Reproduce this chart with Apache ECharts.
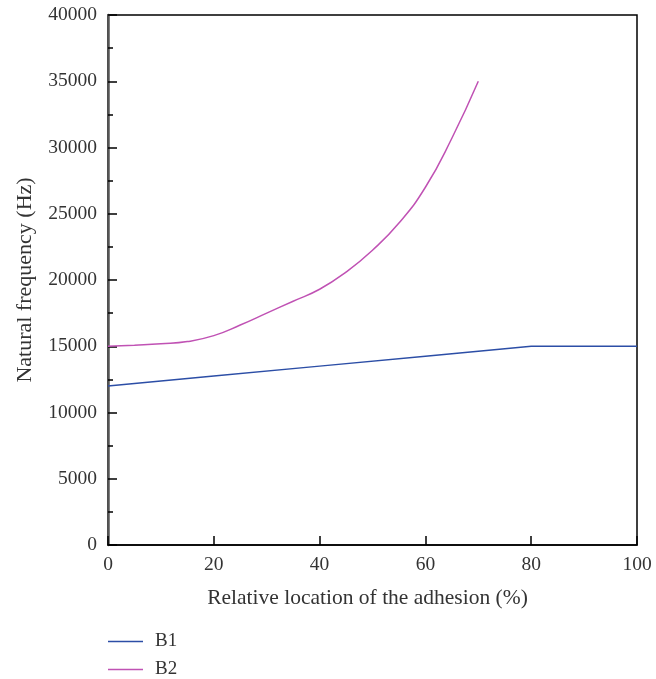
<!DOCTYPE html>
<html>
<head>
<meta charset="utf-8">
<script src="https://cdn.jsdelivr.net/npm/echarts@6/dist/echarts.min.js"></script>
<style>html,body{margin:0;padding:0;background:#fff}#c{width:656px;height:679px}</style>
</head>
<body>
<div id="c"></div>
<script>
const xB1 = [0, 20, 40, 60, 80, 100];
const yB1 = [12000, 12750, 13500, 14250, 15000, 15000];
const xB2 = [0, 5, 10, 15, 20, 25, 30, 35, 40, 45, 50, 55, 60, 65, 70];
const yB2 = [15000, 15080, 15180, 15350, 15800, 16600, 17500, 18400, 19300, 20600, 22250, 24300, 27000, 30700, 35000];
const seriesNames = ['B1', 'B2'];
const xTitle = 'Relative location of the adhesion (%)';
const yTitle = 'Natural frequency (Hz)';

const font = 'Liberation Serif';
const legendBase = {
  orient: 'vertical', left: 103, itemWidth: 35, itemHeight: 1.5, itemGap: 0, icon: 'rect',
  textStyle: {fontFamily: font, fontSize: 19, color: '#333', padding: [0, 0, 0, 7]}
};
const chart = echarts.init(document.getElementById('c'), null, {renderer: 'canvas'});
chart.setOption({
  animation: false,
  grid: {left: 108, right: 19, top: 15, bottom: 134, outerBoundsMode: 'none', containLabel: false,
         show: true, borderColor: '#000', borderWidth: 1.5, backgroundColor: 'transparent'},
  legend: [
    Object.assign({}, legendBase, {top: 627, data: [seriesNames[0]]}),
    Object.assign({}, legendBase, {top: 655, data: [seriesNames[1]]})
  ],
  xAxis: {
    type: 'value', min: 0, max: 100, interval: 20,
    name: xTitle, nameLocation: 'middle', nameGap: 42,
    nameTextStyle: {fontFamily: font, fontSize: 21.5, color: '#333', padding: [0, 10, 0, 0]},
    axisLine: {lineStyle: {color: '#000', width: 1.5}},
    axisTick: {inside: true, length: 9, lineStyle: {color: '#000', width: 1.5}},
    axisLabel: {fontFamily: font, fontSize: 19.5, color: '#333', margin: 10},
    splitLine: {show: false}
  },
  yAxis: {
    type: 'value', min: 0, max: 40000, interval: 5000,
    name: yTitle, nameLocation: 'middle', nameGap: 72,
    nameTextStyle: {fontFamily: font, fontSize: 22, color: '#333'},
    axisLine: {lineStyle: {color: '#555', width: 2.5}},
    axisTick: {inside: true, length: 9, lineStyle: {color: '#000', width: 1.5}},
    minorTick: {show: true, splitNumber: 2, length: 5, lineStyle: {color: '#000', width: 1.5}},
    axisLabel: {fontFamily: font, fontSize: 19.5, color: '#333', margin: 11, formatter: v => String(v)},
    splitLine: {show: false}
  },
  series: [
    {name: seriesNames[0], type: 'line', showSymbol: false, symbol: 'none', color: '#2c4ea6',
     lineStyle: {width: 1.5, color: '#2c4ea6'},
     data: xB1.map((x, i) => [x, yB1[i]])},
    {name: seriesNames[1], type: 'line', showSymbol: false, symbol: 'none', smooth: 0.5, color: '#c052b4',
     lineStyle: {width: 1.5, color: '#c052b4'},
     data: xB2.map((x, i) => [x, yB2[i]])}
  ]
});
</script>
</body>
</html>
